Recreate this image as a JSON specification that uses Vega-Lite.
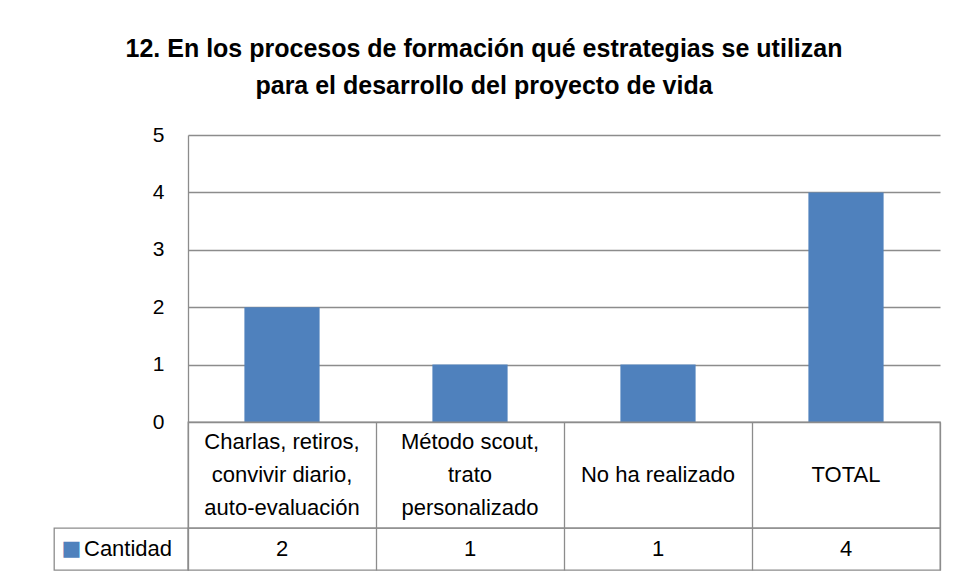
{
  "$schema": "https://vega.github.io/schema/vega-lite/v6.json",
  "padding": {"left": 53, "top": 37, "right": 10, "bottom": 5},
  "background": "white",
  "title": {
    "text": ["12. En los procesos de formación  qué estrategias se utilizan", "para el desarrollo del proyecto de vida"],
    "font": "Liberation Sans",
    "fontSize": 25,
    "fontWeight": "bold",
    "color": "#000000",
    "lineHeight": 37,
    "anchor": "middle",
    "offset": 25,
    "dx": -13
  },
  "config": {
    "view": {"stroke": null},
    "font": "Liberation Sans",
    "concat": {"spacing": 0}
  },
  "datasets": {
    "tabla": [
      {"cat": "Charlas, retiros, convivir diario, auto-evaluación", "label": "Charlas, retiros,\nconvivir diario,\nauto-evaluación", "valor": 2},
      {"cat": "Método scout, trato personalizado", "label": "Método scout,\ntrato\npersonalizado", "valor": 1},
      {"cat": "No ha realizado", "label": "\nNo ha realizado", "valor": 1},
      {"cat": "TOTAL", "label": "\nTOTAL", "valor": 4}
    ],
    "serie": [{"serie": "Cantidad"}]
  },
  "columns": 2,
  "bounds": "flush",
  "spacing": 0,
  "concat": [
    {
      "width": 134, "height": 287,
      "data": {"name": "serie"},
      "mark": {"type": "text", "text": ""},
      "encoding": {}
    },
    {
      "width": 752, "height": 287,
      "data": {"name": "tabla"},
      "mark": {"type": "bar", "color": "#4F81BD"},
      "encoding": {
        "x": {"field": "cat", "type": "nominal", "sort": null,
              "scale": {"paddingInner": 0.6, "paddingOuter": 0.3}, "axis": null},
        "y": {"field": "valor", "type": "quantitative",
              "scale": {"domain": [0, 5], "nice": false},
              "axis": {"title": null, "values": [0, 1, 2, 3, 4, 5], "grid": true,
                       "gridColor": "#8c8c8c", "gridWidth": 1.3, "domainColor": "#8c8c8c",
                       "domainWidth": 1.3, "ticks": false, "labelPadding": 24,
                       "labelFontSize": 21, "labelColor": "#000000",
                       "labelFont": "Liberation Sans"}}
      }
    },
    {
      "width": 134, "height": 106,
      "data": {"name": "serie"},
      "mark": {"type": "text", "text": ""},
      "encoding": {}
    },
    {
      "width": 752, "height": 106,
      "view": {"stroke": "#8c8c8c", "strokeWidth": 1.3},
      "data": {"name": "tabla"},
      "mark": {"type": "text", "fontSize": 22, "lineBreak": "\n", "lineHeight": 33,
               "baseline": "middle", "dy": -33, "color": "#000000",
               "font": "Liberation Sans"},
      "encoding": {
        "x": {"field": "cat", "type": "nominal", "sort": null,
              "scale": {"paddingInner": 0, "paddingOuter": 0},
              "axis": {"title": null, "labels": false, "ticks": false, "domain": false,
                       "grid": true, "tickBand": "extent", "gridColor": "#8c8c8c", "gridWidth": 1.3}},
        "text": {"field": "label"}
      }
    },
    {
      "width": 134, "height": 42,
      "view": {"stroke": "#8c8c8c", "strokeWidth": 1.3},
      "data": {"name": "serie"},
      "layer": [
        {
          "mark": {"type": "text", "text": "■", "align": "center", "baseline": "middle",
                   "fontSize": 21, "dx": -49.5, "color": "#4F81BD",
                   "font": "DejaVu Sans"},
          "encoding": {}
        },
        {
          "mark": {"type": "text", "align": "left", "baseline": "middle", "fontSize": 22,
                   "dx": -37, "color": "#000000",
                   "font": "Liberation Sans"},
          "encoding": {"text": {"field": "serie"}}
        }
      ]
    },
    {
      "width": 752, "height": 42,
      "view": {"stroke": "#8c8c8c", "strokeWidth": 1.3},
      "data": {"name": "tabla"},
      "mark": {"type": "text", "fontSize": 22, "baseline": "middle", "color": "#000000",
               "font": "Liberation Sans"},
      "encoding": {
        "x": {"field": "cat", "type": "nominal", "sort": null,
              "scale": {"paddingInner": 0, "paddingOuter": 0},
              "axis": {"title": null, "labels": false, "ticks": false, "domain": false,
                       "grid": true, "tickBand": "extent", "gridColor": "#8c8c8c", "gridWidth": 1.3}},
        "text": {"field": "valor"}
      }
    }
  ]
}
